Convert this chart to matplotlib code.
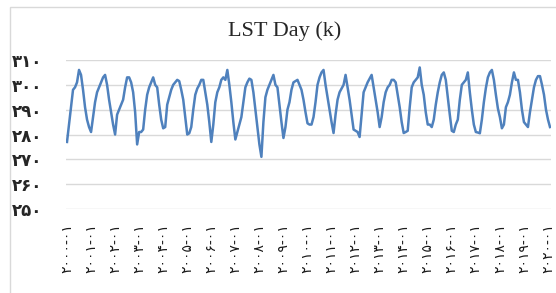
import matplotlib
matplotlib.use("Agg")
import matplotlib.pyplot as plt
from matplotlib.patches import Rectangle

# monthly LST day values (K), 2000-01 .. 2020-02
y2000 = [277, 284, 291, 298, 299, 301, 306, 304, 298, 291, 286, 283]
y2001 = [281, 287, 293, 297, 299, 301, 303, 304, 300, 294, 289, 284]
y2002 = [280, 288, 290, 292, 294, 299, 303, 303, 301, 297, 289, 276]
y2003 = [281, 281, 282, 290, 296, 299, 301, 303, 300, 299, 292, 286]
y2004 = [282.5, 283, 292, 295, 298, 300, 301, 302, 301.5, 298, 294, 287]
y2005 = [280, 280.5, 283, 290, 296, 298.5, 300, 302, 302, 297, 292, 285]
y2006 = [277, 284, 293, 297, 299, 302, 303, 302, 306, 300, 293, 285]
y2007 = [278, 281, 284, 287, 293, 299, 301, 302.5, 302, 297, 290, 283]
y2008 = [276, 271, 285, 295, 298, 300, 302, 304, 300, 299, 292, 285]
y2009 = [278.6, 283, 290, 293, 298, 301, 301.5, 302, 300, 298, 294, 289]
y2010 = [284.5, 284, 284, 287, 293, 300, 303, 305, 306, 300, 295, 290]
y2011 = [285, 280.6, 288, 294, 297, 298.5, 300, 304, 299, 294, 288, 282]
y2012 = [281.5, 281, 279, 288, 297, 299, 301, 302.5, 304, 299, 294, 289]
y2013 = [283, 287, 293, 297, 299, 300, 302, 302, 301, 296, 291, 285]
y2014 = [280.6, 281, 281.5, 291, 299, 301, 302, 303, 307, 300, 296, 289]
y2015 = [284, 284, 283, 286, 292, 297, 301, 304, 305, 302, 295, 288]
y2016 = [281.5, 281, 284, 286, 294, 300, 301, 302, 305, 297, 290, 284]
y2017 = [281, 280.8, 280.5, 286, 293, 298.7, 303, 305, 306, 302, 296, 290.5]
y2018 = [287, 282.5, 284, 291, 293, 296, 301, 305, 302, 302, 297, 290]
y2019 = [285, 284, 283, 289, 294, 299, 302, 303.5, 303.5, 300, 296, 290]
y2020 = [286, 283]

lst_day = (y2000 + y2001 + y2002 + y2003 + y2004 + y2005 + y2006 + y2007
           + y2008 + y2009 + y2010 + y2011 + y2012 + y2013 + y2014 + y2015
           + y2016 + y2017 + y2018 + y2019 + y2020)

years = list(range(2000, 2021))
yticks = [250, 260, 270, 280, 290, 300, 310]

fa = str.maketrans("0123456789", "۰۱۲۳۴۵۶۷۸۹")
xlabels = [("%d-01" % yr).translate(fa) for yr in years]
ylabels = [str(v).translate(fa) for v in yticks]

fig = plt.figure(figsize=(5.56, 2.93), dpi=100)
ax = fig.add_axes([66/556, 1-209/293, 485/556, 149/293])

ax.plot(range(len(lst_day)), lst_day, color="#4f81bd", lw=1.8)

ax.set_ylim(250, 310)
ax.set_xlim(-0.5, len(lst_day) - 0.5)
ax.set_yticks(yticks)
ax.set_yticklabels(ylabels, fontsize=12, fontweight="bold", family="DejaVu Sans")
ax.set_xticks([12*i for i in range(len(years))])
ax.set_xticklabels(xlabels, rotation=90, fontsize=10, family="DejaVu Sans")
ax.tick_params(axis="y", length=0, pad=17, colors="#262626")
ax.tick_params(axis="x", length=0, pad=10, colors="#1a1a1a")
ax.grid(axis="y", color="#d9d9d9", lw=1)
ax.set_axisbelow(True)
for s in ax.spines.values():
    s.set_visible(False)

fig.text(285/556, 1-36/293, "LST Day (k)", ha="center", va="baseline",
         fontsize=16, family="Liberation Serif", color="#262626")

# chart border
fig.patches.append(Rectangle((10/556, -0.2), 1.1, 1.2 - 7/293,
                             transform=fig.transFigure, fill=False,
                             ec="#d9d9d9", lw=1))

fig.savefig("out.png", dpi=100)
